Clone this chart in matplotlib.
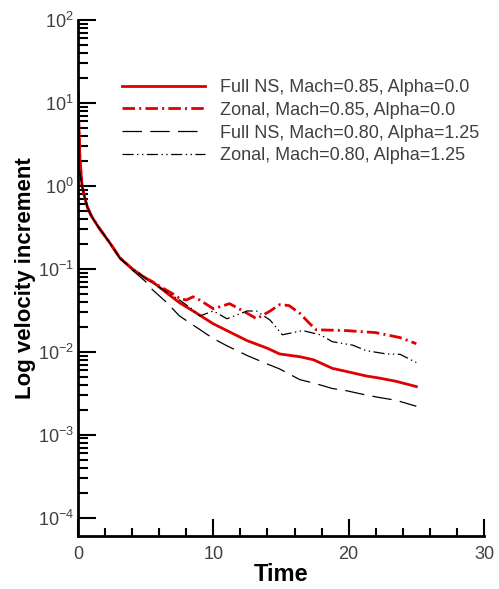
import numpy as np
import matplotlib
matplotlib.use("Agg")
import matplotlib.pyplot as plt
from matplotlib.ticker import FixedLocator, LogFormatterSciNotation, NullFormatter

plt.rcParams['font.family'] = ['Liberation Sans', 'DejaVu Sans']
plt.rcParams['mathtext.fontset'] = 'custom'
plt.rcParams['mathtext.rm'] = 'Liberation Sans'
plt.rcParams['lines.scale_dashes'] = False

# Full NS, Mach=0.85, Alpha=0.0
t_full85 = [0, 0.05, 0.15, 0.3, 0.5, 0.7, 1.0, 1.5, 1.9, 2.4, 3.1, 4.0, 5.0, 5.5, 6.5, 7.5, 8.5,
            10, 11, 12.5, 14, 14.9, 16.4, 17.4, 18.8, 19.8, 21.3, 22.3, 23.5, 25]
y_full85 = [13.5, 6, 2, 1.0, 0.72, 0.55, 0.43, 0.32, 0.26, 0.2, 0.135, 0.1, 0.077, 0.07, 0.052, 0.039, 0.031,
            0.0217, 0.018, 0.0136, 0.011, 0.0094, 0.0087, 0.0080, 0.0063, 0.0058, 0.0051, 0.0048, 0.0044, 0.0038]

# Zonal, Mach=0.85, Alpha=0.0
t_zon85 = [0, 0.05, 0.15, 0.3, 0.5, 0.7, 1.0, 1.5, 1.9, 2.4, 3.1, 4.0, 5.0, 6.0, 7.0, 7.5, 8.0, 8.5, 9.0,
           10, 11.2, 12.2, 13.2, 14.2, 14.9, 15.6, 16.4, 17.1, 17.6, 19.8, 22.0, 23.8, 25]
y_zon85 = [13.5, 6, 2, 1.0, 0.72, 0.55, 0.43, 0.32, 0.26, 0.2, 0.135, 0.1, 0.077, 0.062, 0.05, 0.044, 0.042, 0.046, 0.042,
           0.033, 0.038, 0.031, 0.025, 0.031, 0.037, 0.036, 0.029, 0.022, 0.0184, 0.018, 0.017, 0.0148, 0.0125]

# Full NS, Mach=0.80, Alpha=1.25
t_full80 = [0, 0.1, 0.3, 0.5, 0.7, 1.0, 1.5, 1.9, 2.4, 3.1, 4.0, 5.0, 5.5, 6.5, 7.5, 8.5,
            10, 11, 12.5, 14, 14.9, 16.4, 17.4, 18.8, 19.8, 21.3, 22.3, 23.5, 25]
y_full80 = [3, 1.6, 1.0, 0.72, 0.55, 0.43, 0.32, 0.26, 0.2, 0.133, 0.097, 0.07, 0.056, 0.04, 0.027, 0.021,
            0.0144, 0.0118, 0.009, 0.0071, 0.0062, 0.0046, 0.0042, 0.0036, 0.0034, 0.0030, 0.0028, 0.0026, 0.0022]

# Zonal, Mach=0.80, Alpha=1.25
t_zon80 = [0, 0.1, 0.3, 0.5, 0.7, 1.0, 1.5, 1.9, 2.4, 3.1, 4.0, 5.0, 6.0, 7.5, 8.3, 9.0,
           10, 11, 12.5, 13.2, 14.2, 15.1, 16.6, 17.9, 18.8, 20.3, 21.3, 22.8, 23.8, 25]
y_zon80 = [3, 1.6, 1.0, 0.72, 0.55, 0.43, 0.32, 0.26, 0.2, 0.135, 0.1, 0.077, 0.06, 0.042, 0.034, 0.027,
           0.031, 0.025, 0.031, 0.031, 0.024, 0.016, 0.018, 0.016, 0.0132, 0.012, 0.0103, 0.0094, 0.0093, 0.0074]

labels = ["Full NS, Mach=0.85, Alpha=0.0", "Zonal, Mach=0.85, Alpha=0.0",
          "Full NS, Mach=0.80, Alpha=1.25", "Zonal, Mach=0.80, Alpha=1.25"]

red = '#e00000'
fig = plt.figure(figsize=(4.99, 5.89), dpi=100)
ax = fig.add_axes([78 / 499, 1 - 536 / 589, 406 / 499, 516 / 589])

ax.plot(t_full85, y_full85, color=red, lw=2.0, label=labels[0])
ax.plot(t_zon85, y_zon85, color=red, lw=2.0, dashes=(9, 3, 1.5, 3), label=labels[1])
ax.plot(t_full80, y_full80, color='black', lw=0.9, dashes=(14, 6), label=labels[2])
ax.plot(t_zon80, y_zon80, color='black', lw=0.9, dashes=(8, 2.5, 1, 2.5, 1, 2.5), label=labels[3])

ax.set_yscale('log')
ax.set_xlim(0, 30)
ax.set_ylim(6e-5, 100)

ax.xaxis.set_major_locator(FixedLocator([0, 10, 20, 30]))
ax.xaxis.set_minor_locator(FixedLocator([2, 4, 6, 8, 12, 14, 16, 18, 22, 24, 26, 28]))
ax.yaxis.set_major_locator(FixedLocator([10.0 ** k for k in range(-4, 3)]))
minors = [m * 10.0 ** k for k in range(-4, 2) for m in range(2, 10)]
ax.yaxis.set_minor_locator(FixedLocator(minors))
ax.yaxis.set_major_formatter(LogFormatterSciNotation())
ax.yaxis.set_minor_formatter(NullFormatter())

for side in ['top', 'right']:
    ax.spines[side].set_visible(False)
for side in ['left', 'bottom']:
    ax.spines[side].set_linewidth(2)

ax.tick_params(which='both', direction='in', width=1.5, labelcolor='#404040', labelsize=13)
ax.tick_params(axis='y', which='major', length=13, pad=3)
ax.tick_params(axis='y', which='minor', length=7)
ax.tick_params(axis='x', which='major', length=12, pad=7)
ax.tick_params(axis='x', which='minor', length=6)

ax.set_xlabel('Time', fontsize=17, fontweight='bold', labelpad=0)
ax.set_ylabel('Log velocity increment', fontsize=16, fontweight='bold', labelpad=1)

leg = ax.legend(loc='upper left', bbox_to_anchor=(122 / 499, 1 - 79 / 589), bbox_transform=fig.transFigure,
                frameon=False, fontsize=13, handlelength=4.6, handletextpad=0.8,
                labelspacing=0.32, borderpad=0, borderaxespad=0)
for txt in leg.get_texts():
    txt.set_color('#404040')

fig.savefig('out.png', dpi=100)
